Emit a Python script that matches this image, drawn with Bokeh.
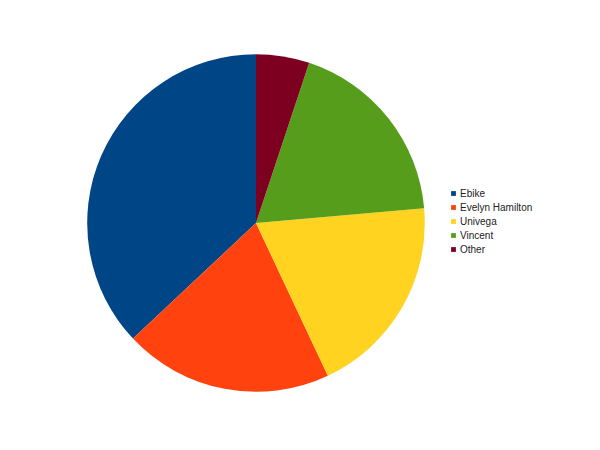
import math
from bokeh.plotting import figure
from bokeh.models import Range1d, Legend, LegendItem
from bokeh.embed import file_html
from bokeh.resources import INLINE

categories = ["Ebike", "Evelyn Hamilton", "Univega", "Vincent", "Other"]
values = [37.0, 20.0, 19.4, 18.5, 5.1]
colors = ["#004586", "#ff420e", "#ffd320", "#579d1c", "#7e0021"]

W, H = 584, 434
cx_page, cy_page, radius = 255.5, 222.5, 168.8
x0 = -cx_page
y1 = cy_page

p = figure(width=W, height=H, output_backend="svg", toolbar_location=None,
           x_range=Range1d(x0, x0 + W), y_range=Range1d(y1 - H, y1),
           min_border=0, outline_line_color=None)
p.axis.visible = False
p.grid.visible = False
p.background_fill_color = "white"
p.border_fill_color = "white"

total = sum(values)
start = math.pi / 2
items = []
for cat, v, c in zip(categories, values, colors):
    end = start + 2 * math.pi * v / total
    r = p.wedge(x=0, y=0, radius=radius, start_angle=start, end_angle=end,
                fill_color=c, line_color=None)
    items.append(LegendItem(label=cat, renderers=[r]))
    start = end

legend = Legend(items=items, location=(450, 179), glyph_width=6, glyph_height=6,
                label_standoff=4, spacing=2, padding=0, margin=0,
                label_text_font="Liberation Sans", label_text_font_size="10px",
                label_text_color="#222222", label_height=12,
                border_line_color=None, background_fill_alpha=0)
p.add_layout(legend)

open("out.html", "w").write(file_html(p, INLINE))
